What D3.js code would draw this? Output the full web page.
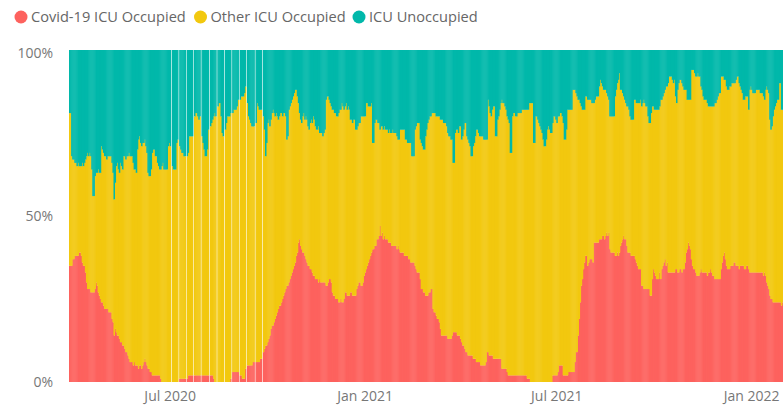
<!DOCTYPE html>
<html>
<head>
<meta charset="utf-8">
<script src="https://cdn.jsdelivr.net/npm/d3@7"></script>
<style>
  body { margin: 0; background: #fff; }
  svg { display: block; font-family: "Open Sans", "Segoe UI", sans-serif; }
</style>
</head>
<body>
<svg id="chart" width="783" height="406"></svg>
<script>
// Daily ICU bed use, first day of the series and the ticks shown on the axes
const startDate = "2020-03-28";
const dayCount = 674;
const seriesNames = ["Covid-19 ICU Occupied", "Other ICU Occupied", "ICU Unoccupied"];
const seriesColors = ["#FD625E", "#F2C80F", "#01B8AA"];
const yTickValues = [0, 0.5, 1];
const xTickDates = ["2020-07-01", "2021-01-01", "2021-07-01", "2022-01-01"];

// Share of ICU beds occupied by Covid-19 patients, % (null = no report that day)
const covidPct = [
  35,35,35,37,37,38,38,38,38,39, 39,38,36,35,35,33,30,28,28,28,
  27,27,27,27,28,30,29,27,26,25, 24,24,23,22,22,22,22,21,21,21,
  19,18,14,16,15,14,14,13,12,12, 11,11,10,9,9,8,7,6,6,6,
  5,6,5,5,5,4,5,5,4,5, 6,7,6,5,4,4,3,3,2,2,
  2,2,2,2,2,2,1,0,0,0, 0,0,0,0,0,0,null,0,0,0,
  0,0,0,null,1,1,1,1,1,1, null,1,2,2,2,2,2,null,2,2,
  2,2,2,2,null,2,2,2,2,2, 2,2,null,2,2,2,1,0,0,null,
  0,0,0,0,0,0,null,0,0,0, 0,0,1,null,3,3,3,3,3,3,
  null,2,2,1,1,1,4,null,5,5, 5,5,5,6,6,null,6,6,6,6,
  7,7,null,9,10,11,11,12,13,14, 16,17,17,18,19,20,21,22,23,23,
  24,25,26,27,28,29,29,30,31,32, 33,34,35,36,38,39,42,43,41,40,
  39,39,38,37,36,35,35,34,34,33, 32,32,31,31,31,30,31,30,30,30,
  30,30,29,29,30,31,31,30,27,26, 26,25,25,25,24,24,25,24,24,25,
  27,27,26,26,26,27,27,26,26,26, 26,28,29,30,30,29,29,30,32,33,
  34,35,36,37,38,39,40,40,41,41, 43,43,44,47,44,45,43,44,43,43,
  43,42,42,42,41,41,41,41,41,40, 41,40,39,39,39,39,38,38,38,38,
  37,37,36,36,36,36,35,34,33,33, 33,31,28,28,27,27,26,26,26,27,
  27,28,28,22,21,21,20,19,19,18, 16,14,14,14,14,14,14,13,13,13,
  13,14,15,15,15,15,14,14,14,13, 12,11,11,10,9,9,8,8,8,8,
  8,7,7,7,6,6,6,6,5,5, 5,5,5,6,9,9,8,8,8,8,
  7,7,7,7,7,7,7,7,4,4, 4,4,4,3,2,2,2,2,2,2,
  2,2,2,2,2,2,2,2,2,2, 2,2,1,1,1,0,0,0,0,0,
  0,0,0,0,0,0,0,0,0,0, 0,0,0,0,0,0,2,2,2,2,
  2,3,5,5,5,5,2,2,2,2, 2,3,3,3,3,3,3,6,9,9,
  14,19,24,29,31,34,36,38,38,35, 36,37,37,37,36,42,42,42,42,42,
  43,43,43,44,44,43,44,45,44,45, 40,39,39,39,39,38,38,39,38,39,
  41,42,43,44,43,43,41,39,39,39, 38,38,38,38,37,36,35,34,34,34,
  29,29,28,28,28,28,28,28,26,26, 31,34,33,32,31,31,31,33,31,34,
  35,36,37,35,36,33,33,33,33,33, 33,33,34,34,33,33,34,34,33,34,
  34,36,39,40,42,41,40,37,35,34, 34,33,32,32,32,33,34,33,33,33,
  33,33,32,33,33,34,33,32,32,31, 31,31,31,31,31,34,36,38,39,37,
  35,34,34,34,35,35,35,36,36,35, 35,35,34,35,35,35,35,34,34,35,
  35,34,33,33,33,33,33,33,33,33, 33,33,33,33,33,32,33,32,30,29,
  28,26,25,25,24,24,24,24,24,24, 24,24,23,24
];

// Share of ICU beds occupied by any patient, % (null = no report that day)
const occupiedPct = [
  81,81,68,67,67,66,66,65,66,65, 65,65,66,65,66,67,68,69,68,69,
  68,64,56,56,62,63,63,64,63,63, 71,70,69,68,68,67,68,68,68,68,
  66,63,55,60,65,66,64,63,66,65, 64,68,68,67,68,68,69,68,68,68,
  66,64,64,63,70,73,74,72,71,72, 72,73,71,69,63,62,62,64,69,70,
  70,68,68,66,65,64,64,65,66,64, 64,64,64,71,72,71,null,65,64,64,
  64,72,73,null,71,70,69,69,68,68, null,68,69,74,74,74,74,null,80,81,
  81,80,79,80,null,74,72,70,68,68, 70,76,null,77,78,79,80,81,80,null,
  83,84,84,80,75,74,null,76,78,80, 80,80,81,null,81,82,82,82,83,85,
  null,85,86,86,86,87,89,null,84,80, 79,78,77,77,77,null,78,84,83,82,
  82,82,null,80,76,68,72,78,79,77, 79,81,82,81,80,81,80,79,80,81,
  81,80,81,81,80,73,74,82,83,84, 85,86,87,88,88,86,84,81,79,78,
  80,81,79,80,79,77,76,78,79,78, 80,79,77,76,76,77,75,75,75,74,
  75,76,85,86,86,85,84,83,82,82, 81,81,80,80,81,82,82,84,83,82,
  83,84,82,83,82,79,79,78,79,79, 76,76,77,78,78,80,80,80,80,80,
  84,84,83,83,83,84,72,72,78,79, 79,78,78,76,77,77,76,77,76,76,
  76,75,76,75,75,76,75,75,75,74, 73,73,76,76,76,76,76,73,73,72,
  72,72,72,68,68,68,76,77,78,78, 78,73,72,71,70,70,74,76,78,79,
  80,80,81,81,81,81,80,80,80,80, 79,79,79,78,78,78,77,75,74,74,
  73,73,66,66,75,76,76,75,77,77, 73,74,76,78,78,74,73,72,71,68,
  68,71,72,74,76,76,75,74,74,74, 74,73,73,73,73,85,83,81,80,82,
  83,83,74,74,79,80,82,84,85,84, 84,83,82,80,79,78,69,69,80,81,
  81,80,80,81,81,81,81,82,82,82, 82,82,82,82,84,84,84,84,72,72,
  80,80,79,78,77,76,75,73,71,71, 73,76,77,76,75,75,78,80,80,79,
  78,80,80,81,81,80,78,73,73,76, 82,82,82,82,82,88,88,88,87,86,
  85,85,84,83,82,82,82,86,86,85, 85,85,85,84,84,84,85,86,86,86,
  89,91,90,89,88,88,88,87,86,85, 80,80,80,80,80,86,88,90,91,93,
  88,88,87,86,85,84,83,83,82,80, 79,79,79,85,85,84,84,84,84,85,
  83,84,85,84,83,83,80,78,78,81, 83,83,82,82,82,82,82,83,85,85,
  86,87,88,89,89,90,92,92,92,91, 90,91,86,84,88,90,91,91,90,89,
  88,88,88,85,85,85,85,94,94,94, 93,92,92,93,92,92,89,88,86,85,
  85,85,84,83,83,83,83,83,83,84, 84,85,86,87,87,92,92,92,91,91,
  89,88,88,89,89,90,90,90,90,91, 92,92,90,89,88,87,85,85,86,86,
  86,82,88,89,88,87,87,87,88,88, 88,88,87,87,87,86,85,88,89,88,
  87,79,76,77,80,82,83,84,85,85, 90,90,82,82
];

const svg = d3.select("#chart");
const W = 783;
const plotLeft = 69;

const parseDay = d3.utcParse("%Y-%m-%d");
const start = parseDay(startDate);

// One row per reported day, with the three shares that make up 100%
const rows = [];
for (let i = 0; i < dayCount; i++) {
  if (covidPct[i] == null || occupiedPct[i] == null) continue;
  rows.push({
    date: d3.utcDay.offset(start, i),
    covid: covidPct[i],
    other: occupiedPct[i] - covidPct[i],
    unoccupied: 100 - occupiedPct[i]
  });
}

const keys = ["covid", "other", "unoccupied"];
const stacked = d3.stack().keys(keys).offset(d3.stackOffsetExpand)(rows);

const x = d3.scaleUtc()
  .domain([start, d3.utcDay.offset(start, dayCount)])
  .range([plotLeft, W]);
const y = d3.scaleLinear().domain([0, 1]).range([382, 50]);
const color = d3.scaleOrdinal().domain(keys).range(seriesColors);

// Stacked daily bars; each bar slightly overlaps the next to avoid seams,
// so missing days still show as thin light gaps
const barLayer = svg.append("g");
barLayer.selectAll("g.series")
  .data(stacked)
  .join("g")
  .attr("class", "series")
  .attr("fill", d => color(d.key))
  .selectAll("rect")
  .data(d => d)
  .join("rect")
  .attr("x", d => x(d.data.date))
  .attr("width", d => x(d3.utcDay.offset(d.data.date, 1)) - x(d.data.date) + 0.45)
  .attr("y", d => y(d[1]))
  .attr("height", d => Math.max(0, y(d[0]) - y(d[1])));

// Y axis: percentage labels only
const yAxis = svg.append("g")
  .attr("transform", "translate(56,0)")
  .call(d3.axisLeft(y).tickValues(yTickValues).tickFormat(d3.format(".0%")).tickSize(0).tickPadding(3));
yAxis.select(".domain").remove();
yAxis.selectAll("text")
  .attr("fill", "#777")
  .attr("dy", d => d === 1 ? "0.5em" : "0.32em")
  .style("font-size", "14px")
  .style("font-family", "'Open Sans', sans-serif");

// X axis: month labels only
const xAxis = svg.append("g")
  .attr("transform", "translate(0,382)")
  .call(d3.axisBottom(x)
    .tickValues(xTickDates.map(parseDay))
    .tickFormat(d3.utcFormat("%b %Y"))
    .tickSize(0)
    .tickPadding(9));
xAxis.select(".domain").remove();
xAxis.selectAll("text")
  .attr("fill", "#777")
  .style("font-size", "14px")
  .style("font-family", "'Open Sans', sans-serif");

// Legend across the top: marker centres for each entry
const legendMarkerX = [21, 200.5, 359];
const legend = svg.append("g").attr("transform", "translate(0,17)");
seriesNames.forEach((name, i) => {
  const item = legend.append("g");
  item.append("circle").attr("cx", legendMarkerX[i]).attr("cy", 0).attr("r", 6.5).attr("fill", seriesColors[i]);
  item.append("text")
    .attr("x", legendMarkerX[i] + 10)
    .attr("y", 0)
    .attr("dy", "0.35em")
    .attr("fill", "#666")
    .style("font-size", "14.6px")
    .text(name);
});
</script>
</body>
</html>
